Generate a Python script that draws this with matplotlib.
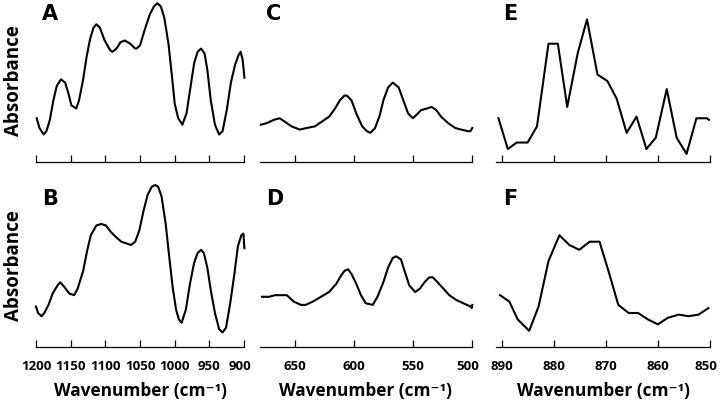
import matplotlib.pyplot as plt
from matplotlib.transforms import ScaledTranslation

# ===== data (wavenumber in cm-1, absorbance in a.u.)
a_wn = [1199, 1195, 1189, 1185, 1180, 1175, 1170, 1164, 1158, 1153, 1149, 1142,
        1138, 1132, 1127, 1122, 1117, 1113, 1108, 1101, 1093, 1090, 1084, 1078,
        1072, 1064, 1057, 1055, 1050, 1043, 1036, 1030, 1025, 1020, 1015, 1009,
        1004, 1000, 995, 989, 983, 977, 972, 967, 962, 957, 953, 948, 942, 936,
        931, 925, 919, 913, 908, 905, 902, 899.5]
a_abs = [0.27, 0.21, 0.17, 0.19, 0.26, 0.38, 0.47, 0.51, 0.49, 0.42, 0.35, 0.33,
         0.38, 0.51, 0.65, 0.76, 0.83, 0.85, 0.83, 0.75, 0.69, 0.68, 0.70, 0.74,
         0.75, 0.73, 0.70, 0.70, 0.72, 0.82, 0.91, 0.96, 0.98, 0.96, 0.89, 0.73,
         0.53, 0.36, 0.27, 0.23, 0.30, 0.47, 0.61, 0.68, 0.70, 0.67, 0.57, 0.38,
         0.23, 0.17, 0.19, 0.32, 0.49, 0.60, 0.66, 0.68, 0.63, 0.52]

b_wn = [1200, 1197, 1192, 1188, 1182, 1176, 1169, 1165, 1159, 1152, 1145, 1140,
        1132, 1126, 1121, 1113, 1106, 1099, 1092, 1085, 1077, 1070, 1063, 1057,
        1051, 1045, 1039, 1033, 1028, 1024, 1019, 1013, 1008, 1003, 998, 994,
        990, 984, 978, 972, 967, 962, 958, 953, 948, 942, 936, 931, 926, 920,
        914, 909, 904, 901, 899.5]
b_abs = [0.25, 0.21, 0.19, 0.21, 0.26, 0.33, 0.38, 0.40, 0.37, 0.33, 0.32, 0.36,
         0.47, 0.60, 0.69, 0.75, 0.76, 0.75, 0.71, 0.68, 0.65, 0.64, 0.63, 0.65,
         0.72, 0.84, 0.94, 0.99, 1.00, 0.99, 0.93, 0.76, 0.56, 0.37, 0.23, 0.17,
         0.15, 0.23, 0.39, 0.52, 0.58, 0.60, 0.58, 0.49, 0.35, 0.21, 0.11, 0.09,
         0.12, 0.27, 0.45, 0.62, 0.69, 0.70, 0.61]

c_wn = [679, 674, 668, 663, 659, 653, 646, 640, 633, 627, 621, 616, 612, 608,
        606, 602, 598, 593, 589, 586, 582, 578, 575, 571, 567, 562, 558, 554,
        550, 547, 543, 538, 534, 530, 526, 520, 514, 509, 503, 501, 499.5]
c_abs = [0.23, 0.24, 0.26, 0.27, 0.25, 0.22, 0.20, 0.21, 0.22, 0.25, 0.28, 0.33,
         0.38, 0.41, 0.41, 0.38, 0.30, 0.22, 0.19, 0.18, 0.21, 0.29, 0.38, 0.46,
         0.49, 0.46, 0.38, 0.30, 0.27, 0.29, 0.32, 0.33, 0.34, 0.32, 0.28, 0.24,
         0.21, 0.20, 0.19, 0.19, 0.21]

d_wn = [678, 672, 667, 661, 657, 651, 645, 641, 635, 628, 621, 615, 611, 608,
        605, 602, 598, 594, 590, 584, 580, 575, 571, 567, 564, 560, 557, 553,
        548, 544, 540, 536, 533, 529, 524, 519, 513, 507, 501, 500, 499.5]
d_abs = [0.31, 0.31, 0.32, 0.32, 0.32, 0.28, 0.26, 0.26, 0.28, 0.31, 0.34, 0.39,
         0.44, 0.47, 0.48, 0.45, 0.39, 0.32, 0.27, 0.26, 0.31, 0.40, 0.49, 0.55,
         0.56, 0.54, 0.47, 0.38, 0.34, 0.36, 0.40, 0.43, 0.43, 0.40, 0.36, 0.32,
         0.29, 0.27, 0.25, 0.24, 0.26]

e_wn = [890.6, 888.8, 887.1, 885.0, 883.2, 881.0, 879.2, 877.4, 875.4, 873.6,
        871.6, 869.7, 867.9, 866.0, 864.1, 862.2, 860.4, 858.3, 856.4, 854.5,
        852.6, 850.6, 850.2]
e_abs = [0.27, 0.08, 0.12, 0.12, 0.22, 0.73, 0.73, 0.34, 0.67, 0.88, 0.54, 0.50,
         0.39, 0.18, 0.28, 0.08, 0.15, 0.45, 0.15, 0.05, 0.27, 0.27, 0.26]

f_wn = [890.3, 888.5, 886.9, 884.7, 882.9, 881.0, 878.9, 877.0, 875.1, 873.1,
        871.2, 869.4, 867.6, 865.6, 863.8, 861.9, 860.0, 858.1, 856.0, 854.1,
        852.2, 850.3]
f_abs = [0.32, 0.28, 0.17, 0.10, 0.25, 0.53, 0.69, 0.63, 0.60, 0.65, 0.65, 0.46,
         0.26, 0.21, 0.21, 0.17, 0.14, 0.18, 0.20, 0.19, 0.20, 0.24]

ticks_ab = [1200, 1150, 1100, 1050, 1000, 950, 900]
ticks_cd = [650, 600, 550, 500]
ticks_ef = [890, 880, 870, 860, 850]

FONT = ["Open Sans", "DejaVu Sans"]


def setup_axis(fig, ax, xlim, ticks, show_labels):
    """Only the bottom axis line with inward ticks"""
    for side in ("left", "right", "top"):
        ax.spines[side].set_visible(False)
    ax.spines["bottom"].set_linewidth(0.9)
    ax.set_xlim(*xlim)
    ax.set_ylim(0, 1)
    ax.set_yticks([])
    ax.set_xticks(ticks)
    ax.tick_params(axis="x", direction="in", length=5, width=0.9, pad=9,
                   labelbottom=show_labels)
    if show_labels:
        labels = ax.get_xticklabels()
        for lbl in labels:
            lbl.set_fontfamily(FONT)
            lbl.set_fontweight("bold")
            lbl.set_fontsize(9.5)
        # the last label sits at the figure edge, nudge it a little inward
        nudge = ScaledTranslation(-3 / 72, 0, fig.dpi_scale_trans)
        labels[-1].set_transform(labels[-1].get_transform() + nudge)
        ax.set_xlabel("Wavenumber (cm\u207b\u00b9)", family=FONT,
                      fontweight="bold", fontsize=12.4, labelpad=7)
    ax.patch.set_visible(False)


def main():
    fig = plt.figure(figsize=(7.2, 4.08), dpi=100)

    top_b, bot_b, h = 0.603, 0.1495, 0.397
    cols = [(0.05, 0.289), (0.3607, 0.2944), (0.6894, 0.2967)]
    panels = [
        ("A", a_wn, a_abs, (1200, 900), ticks_ab, 0, top_b, False),
        ("B", b_wn, b_abs, (1200, 900), ticks_ab, 0, bot_b, True),
        ("C", c_wn, c_abs, (680, 500), ticks_cd, 1, top_b, False),
        ("D", d_wn, d_abs, (680, 500), ticks_cd, 1, bot_b, True),
        ("E", e_wn, e_abs, (891, 850), ticks_ef, 2, top_b, False),
        ("F", f_wn, f_abs, (891, 850), ticks_ef, 2, bot_b, True),
    ]

    for letter, wn, ab, xlim, ticks, col, bottom, show in panels:
        left, width = cols[col]
        ax = fig.add_axes([left, bottom, width, h])
        ax.plot(wn, ab, color="black", lw=1.5, clip_on=False,
                solid_joinstyle="round")
        setup_axis(fig, ax, xlim, ticks, show)
        ax.text(0.03, 0.877, letter, transform=ax.transAxes, fontsize=15,
                fontweight="heavy", family="DejaVu Sans", va="baseline")

    # Absorbance labels for the two rows
    for bottom in (top_b, bot_b):
        fig.text(0.02, bottom + h / 2, "Absorbance", rotation=90,
                 ha="center", va="center", family=FONT, fontweight="bold",
                 fontsize=13.5)

    fig.savefig("out.png", dpi=100)


if __name__ == "__main__":
    main()
